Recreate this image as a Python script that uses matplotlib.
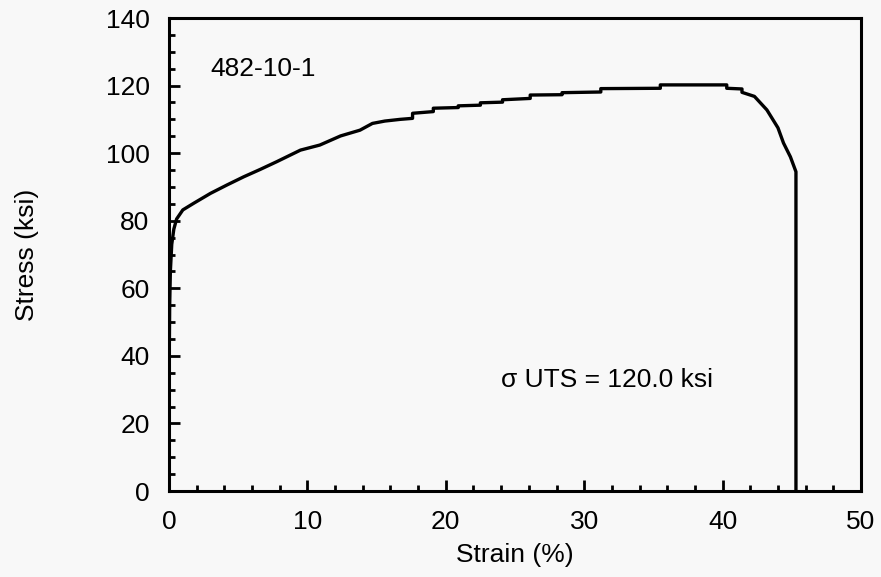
import matplotlib.pyplot as plt
from matplotlib.ticker import MultipleLocator

plt.rcParams.update({
    "font.family": ["Liberation Sans", "DejaVu Sans"],
    "font.size": 19,
})

# strain (%) vs stress (ksi) (steps kept)
strain = [0.0, 0.0, 0.05, 0.1, 0.2, 0.35, 0.55, 1.0, 1.8, 3.0, 4.2, 5.4,
          6.6, 7.8, 9.5, 10.9, 12.4, 13.8, 14.7, 15.6, 16.7, 17.6, 17.6,
          19.1, 19.1, 20.9, 20.9, 22.5, 22.5, 24.1, 24.1, 26.1, 26.1,
          28.4, 28.4, 31.2, 31.2, 35.5, 35.5, 40.3, 40.3, 41.4, 41.4,
          42.3, 43.2, 44.0, 44.4, 44.9, 45.3, 45.3]
stress = [0.0, 30.0, 55.0, 65.0, 73.0, 77.5, 80.5, 83.2, 85.2, 88.1, 90.6,
          93.0, 95.2, 97.5, 100.9, 102.4, 105.1, 106.8, 108.8, 109.5, 110.0,
          110.3, 111.8, 112.3, 113.3, 113.5, 114.0, 114.2, 114.9, 115.1,
          115.8, 116.2, 117.2, 117.3, 117.9, 118.1, 119.1, 119.2, 120.2,
          120.2, 119.2, 119.0, 118.0, 116.8, 112.8, 107.5, 103.0, 98.9,
          94.5, 0.0]

sample_id = "482-10-1"
uts_label = "σ UTS = 120.0 ksi"

fig = plt.figure(figsize=(8.81, 5.77), dpi=100, facecolor="#f8f8f8")
ax = fig.add_axes([0.1918, 0.149, 0.7855, 0.8198], facecolor="#f8f8f8")

ax.plot(strain, stress, color="black", linewidth=2.4)

ax.set_xlim(0, 50)
ax.set_ylim(0, 140)
ax.xaxis.set_major_locator(MultipleLocator(10))
ax.xaxis.set_minor_locator(MultipleLocator(2))
ax.yaxis.set_major_locator(MultipleLocator(20))
ax.yaxis.set_minor_locator(MultipleLocator(5))
ax.tick_params(which="both", direction="in", width=2, top=False, right=False)
ax.tick_params(which="major", length=8, pad=14)
ax.tick_params(which="minor", length=4)
for s in ax.spines.values():
    s.set_linewidth(2.2)

ax.set_xlabel("Strain (%)", labelpad=6)
ax.set_ylabel("Stress (ksi)", labelpad=48)

ax.text(3.0, 125, sample_id, fontsize=19, va="center")
ax.text(24.0, 32.8, uts_label, fontsize=19, va="center")

fig.savefig("out.png", dpi=100, facecolor=fig.get_facecolor())
